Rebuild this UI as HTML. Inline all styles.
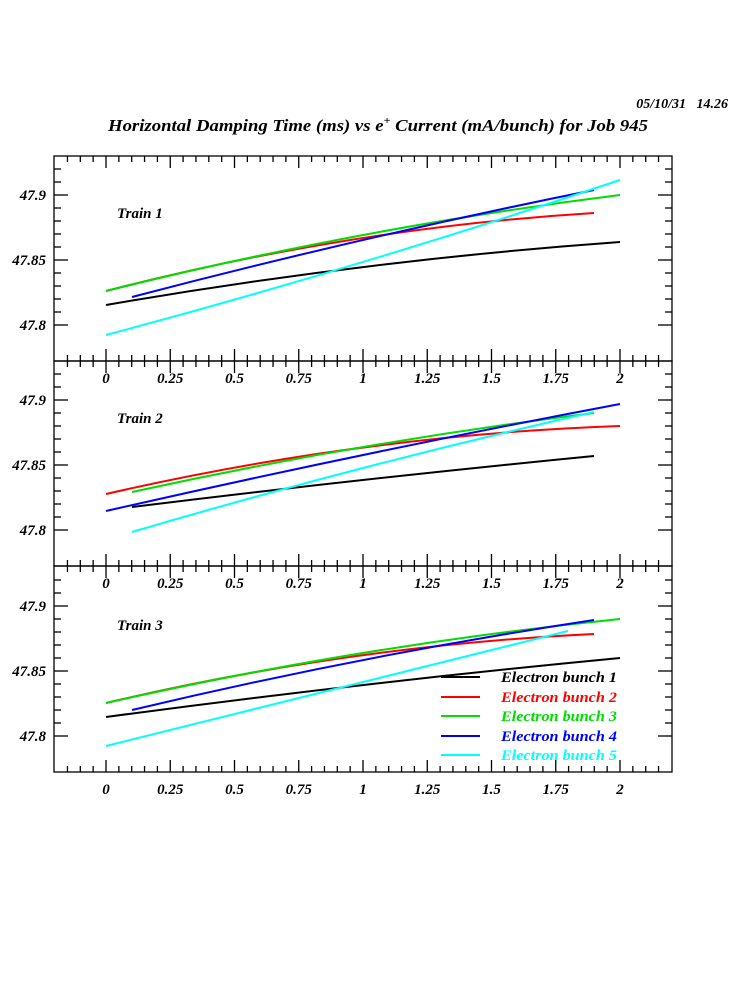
<!DOCTYPE html>
<html><head><meta charset="utf-8"><style>
html,body{margin:0;padding:0;background:#fff;}
svg text{font-family:"Liberation Serif",serif;font-weight:bold;font-style:italic;white-space:pre;}
</style></head><body>
<svg id="s" width="750" height="1000" xmlns="http://www.w3.org/2000/svg">
<text x="728" y="108" font-size="14" text-anchor="end" xml:space="preserve">05/10/31   14.26</text>
<text x="108" y="131" font-size="17" textLength="540" lengthAdjust="spacingAndGlyphs">Horizontal Damping Time (ms) vs e<tspan dy="-7" font-size="11">+</tspan><tspan dy="7"> Current (mA/bunch) for Job 945</tspan></text>
<g id="frames" fill="none" stroke="#000" stroke-width="1.3"></g>
<g id="curves" fill="none" stroke-width="2">
<path stroke="#000" d="M106,305 Q363,260.5 620,242"/>
<path stroke="#f00" d="M106,291 Q350,228 594,213"/>
<path stroke="#0d0" d="M106,291 Q363,227 620,195"/>
<path stroke="#00f" d="M132,297 Q363,236.5 594,190"/>
<path stroke="#0ff" d="M106,335 Q363,266.5 620,180"/>

<path stroke="#000" d="M132,507 Q363,478.5 594,456"/>
<path stroke="#f00" d="M106,494 Q363,435 620,426"/>
<path stroke="#0d0" d="M132,492 Q363,441.5 594,413"/>
<path stroke="#00f" d="M106,511 Q363,452.5 620,404"/>
<path stroke="#0ff" d="M132,532 Q363,464 594,412"/>

<path stroke="#000" d="M106,717 Q363,682.5 620,658"/>
<path stroke="#f00" d="M106,703 Q350,645.5 594,634"/>
<path stroke="#0d0" d="M106,703 Q363,645 620,619"/>
<path stroke="#00f" d="M132,710 Q363,655 594,620"/>
<path stroke="#0ff" d="M106,746 Q337,687.5 568,631"/>
</g>
<g font-size="15">
<text x="117" y="218">Train 1</text>
<text x="117" y="423">Train 2</text>
<text x="117" y="630">Train 3</text>
</g>
<g stroke-width="2">
<line x1="441" y1="677" x2="480" y2="677" stroke="#000"/>
<line x1="441" y1="697" x2="480" y2="697" stroke="#f00"/>
<line x1="441" y1="716" x2="480" y2="716" stroke="#0d0"/>
<line x1="441" y1="736" x2="480" y2="736" stroke="#00f"/>
<line x1="441" y1="755" x2="480" y2="755" stroke="#0ff"/>
</g>
<g font-size="15">
<text x="501" y="682" fill="#000" textLength="116" lengthAdjust="spacingAndGlyphs">Electron bunch 1</text>
<text x="501" y="702" fill="#f00" textLength="116" lengthAdjust="spacingAndGlyphs">Electron bunch 2</text>
<text x="501" y="721" fill="#0d0" textLength="116" lengthAdjust="spacingAndGlyphs">Electron bunch 3</text>
<text x="501" y="741" fill="#00f" textLength="116" lengthAdjust="spacingAndGlyphs">Electron bunch 4</text>
<text x="501" y="760" fill="#0ff" textLength="116" lengthAdjust="spacingAndGlyphs">Electron bunch 5</text>
</g>
<g id="labels" font-size="15"></g>
</svg>
<script>
var NS="http://www.w3.org/2000/svg";
var F=document.getElementById("frames"),L=document.getElementById("labels");
function el(p,t,a,txt){var e=document.createElementNS(NS,t);for(var k in a)e.setAttribute(k,a[k]);if(txt)e.textContent=txt;p.appendChild(e);}
var tops=[156,361,566],bots=[361,566,772],y9=[195,400,606];
var x0=54,x1=672;
for(var p=0;p<3;p++){
 var t=tops[p],b=bots[p];
 el(F,"rect",{x:x0,y:t,width:x1-x0,height:b-t});
 for(var i=-4;i<=52;i++){var x=106+i*12.85;if(x<=x0+1||x>=x1-1)continue;
  var len=(i%5==0)?12:6;
  el(F,"line",{x1:x,y1:t,x2:x,y2:t+len});
  el(F,"line",{x1:x,y1:b,x2:x,y2:b-len});}
 for(var j=-10;j<=10;j++){var y=y9[p]+j*13;if(y<=t+1||y>=b-1)continue;
  var len2=(j%5==0)?14:7;
  el(F,"line",{x1:x0,y1:y,x2:x0+len2,y2:y});
  el(F,"line",{x1:x1,y1:y,x2:x1-len2,y2:y});}
 var yl=["47.9","47.85","47.8"];
 for(var k=0;k<3;k++)el(L,"text",{x:46,y:y9[p]+k*65+5,"text-anchor":"end"},yl[k]);
 var xl=["0","0.25","0.5","0.75","1","1.25","1.5","1.75","2"];
 for(var k=0;k<9;k++)el(L,"text",{x:106+k*64.25,y:b+22,"text-anchor":"middle"},xl[k]);
}
</script>
</body></html>
